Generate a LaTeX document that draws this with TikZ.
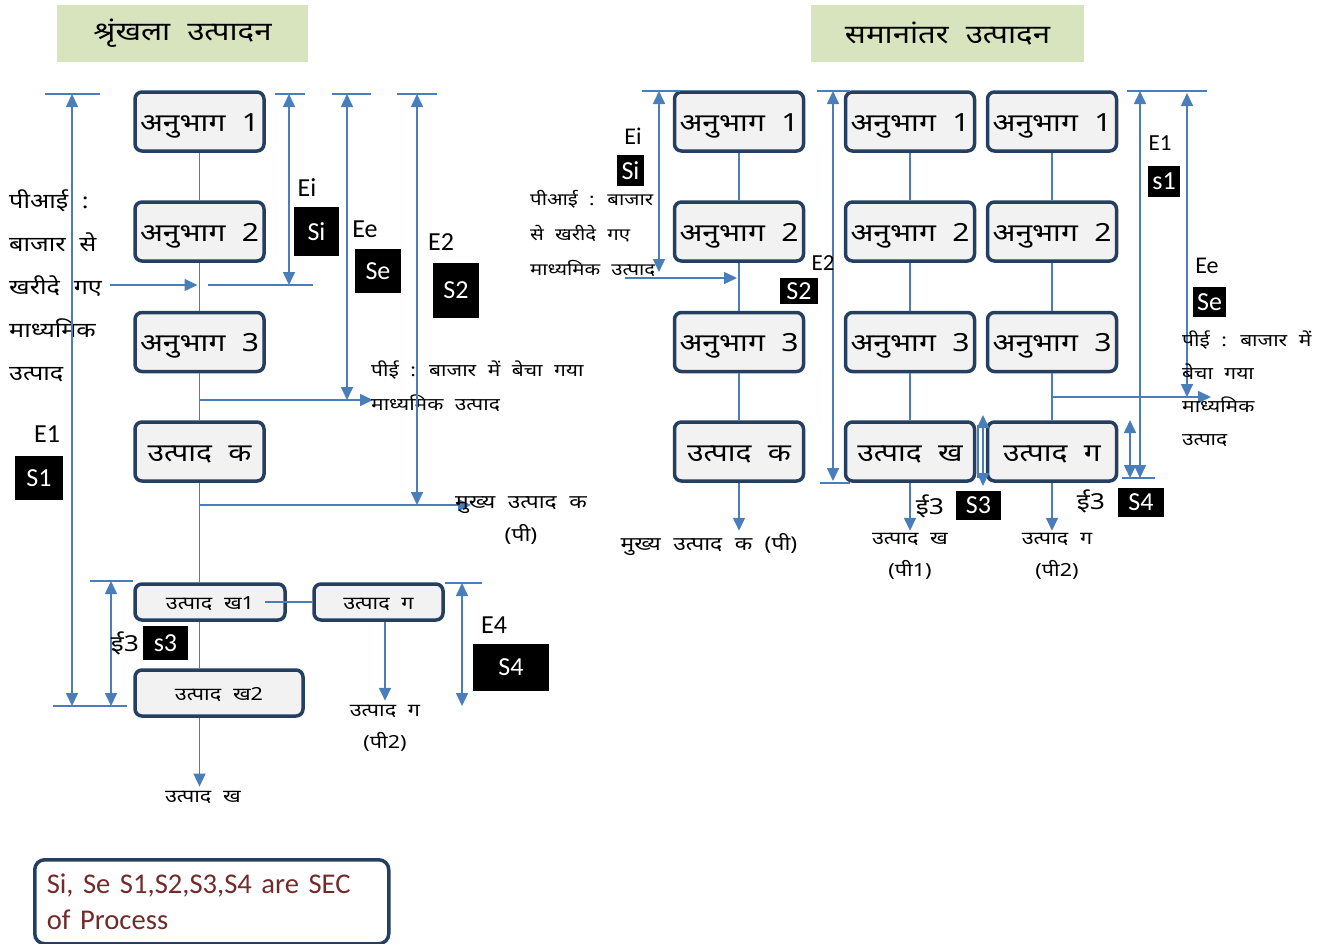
\documentclass[tikz,border=0pt]{standalone}
\usepackage{fontspec}
\setmainfont{Carlito}
\newfontfamily\hindi[Script=Devanagari, FakeStretch=1.2, WordSpace=2.1]{Noto Sans}
\usetikzlibrary{arrows.meta}
\definecolor{boxc}{HTML}{243F60}
\definecolor{boxf}{HTML}{F2F2F2}
\definecolor{linec}{HTML}{4A7EBB}
\definecolor{titlef}{HTML}{D7E4BD}
\definecolor{notec}{HTML}{722B2B}
\tikzset{
  sec/.style={draw=boxc, line width=3.5pt, rounded corners=7pt, fill=boxf,
    minimum width=129pt, minimum height=59pt, inner sep=0pt,
    text height=21pt, text depth=2pt,
    font=\hindi\fontsize{25}{27}\selectfont},
  secs/.style={sec, minimum height=36pt, text height=16pt, text depth=1pt,
    font=\hindi\fontsize{18}{20}\selectfont},
  title/.style={fill=titlef, minimum height=57pt, inner sep=0pt,
    font=\hindi\fontsize{26}{28}\selectfont},
  conn/.style={draw=linec, line width=1.6pt},
  arr/.style={conn, -{Triangle[length=13pt,width=12pt]}},
  dim/.style={conn, {Triangle[length=13pt,width=12pt]}-{Triangle[length=13pt,width=12pt]}},
  elab/.style={font=\fontsize{26}{28}\selectfont, inner sep=0pt},
  sbox/.style={fill=black, text=white, font=\fontsize{26}{28}\selectfont, inner sep=0pt},
  hlab/.style={font=\hindi\fontsize{18}{20}\selectfont, inner sep=0pt},
}
\begin{document}
\begin{tikzpicture}[x=1pt,y=-1pt]
  % rows and columns
  \def\ya{121.5}
  \def\yb{231.5}
  \def\yc{342}
  \def\yd{451.5}
  \def\xl{199.5}
  \def\xa{739}
  \def\xb{910}
  \def\xc{1052}

  \useasboundingbox (0,0) rectangle (1328,943);

  % titles
  \node[title, minimum width=251pt] (tser) at (182.5,33.5) {श्रृंखला उत्पादन};
  \node[title, minimum width=273pt] (tpar) at (947.5,33.5) {समानांतर उत्पादन};

  % ---------- chain production ----------
  \node[sec] (l1) at (\xl,\ya) {अनुभाग 1};
  \node[sec] (l2) at (\xl,\yb) {अनुभाग 2};
  \node[sec] (l3) at (\xl,\yc) {अनुभाग 3};
  \node[sec] (lk) at (\xl,\yd) {उत्पाद क};
  \node[secs, minimum width=150pt] (lkh1) at (210,602) {उत्पाद ख1};
  \node[secs, minimum width=129pt] (lg) at (378.5,602) {उत्पाद ग};
  \node[secs, minimum width=168pt, minimum height=46pt] (lkh2) at (219,693) {उत्पाद ख2};

  \draw[conn] (l1) -- (l2);
  \draw[conn] (l2) -- (l3);
  \draw[conn] (l3) -- (lk);
  \draw[conn] (lk.south) -- (lk.south |- lkh1.north);
  \draw[conn] (lk.south |- lkh1.south) -- (lk.south |- lkh2.north);
  \draw[conn] ([xshift=-22pt]lkh1.east) -- (lg.west);

  \node[hlab, align=center] (lgout) at (385,728) {उत्पाद ग\\[12pt](पी2)};
  \draw[arr] (lgout.north |- lg.south) -- ([yshift=4pt]lgout.north);
  \node[hlab] (lkhout) at (203,797) {उत्पाद ख};
  \draw[arr] (lk.south |- lkh2.south) -- ([yshift=4pt]lk.south |- lkhout.north);

  % bought input
  \node[anchor=north west, align=left, inner sep=0pt,
    font=\hindi\fontsize{21}{43}\selectfont] (pil) at (9,189)
    {पीआई :\\बाजार से\\खरीदे गए\\माध्यमिक\\उत्पाद};
  \coordinate (pin) at (110,285);
  \draw[arr] (pin) -- ([xshift=-2pt]pin -| l2.south);

  % sold output and main product
  \coordinate (peo) at (373,400);
  \draw[arr] (l3.south |- peo) -- (peo);
  \node[anchor=north west, align=left, inner sep=0pt,
    font=\hindi\fontsize{17.5}{34}\selectfont] (pel) at (371,361)
    {पीई : बाजार में बेचा गया\\माध्यमिक उत्पाद};
  \coordinate (mpo) at (471,505);
  \draw[arr] (lk.south |- mpo) -- (mpo);
  \node[anchor=north, align=center, inner sep=0pt,
    font=\hindi\fontsize{19}{33}\selectfont] (mpl) at (521,496)
    {मुख्य उत्पाद क\\(पी)};

  % E_i
  \coordinate (eiT) at (289,94);
  \coordinate (eiB) at (289,285);
  \draw[conn] (275,94) -- (305,94);
  \draw[conn] (208,285) -- (313,285);
  \draw[dim] (eiT) -- (eiB);
  \node[elab] (lei) at (307,188) {Ei};
  \node[sbox, minimum width=45pt, minimum height=49pt] (lsi) at (316.5,231.5) {Si};
  % E_e
  \coordinate (eeT) at (347,94);
  \draw[conn] (332,94) -- (371,94);
  \draw[dim] (eeT) -- (eeT |- peo);
  \node[elab] (lee) at (365,229) {Ee};
  \node[sbox, minimum width=46pt, minimum height=44pt] (lse) at (378,271) {Se};
  % E2
  \coordinate (e2T) at (417,94);
  \draw[conn] (397,94) -- (437,94);
  \draw[dim] (e2T) -- (e2T |- mpo);
  \node[elab] (le2) at (441,242) {E2};
  \node[sbox, minimum width=46pt, minimum height=55pt] (ls2) at (456,290.5) {S2};
  % E1
  \coordinate (e1T) at (72,94);
  \coordinate (e1B) at (72,706);
  \draw[conn] (45,94) -- (100,94);
  \draw[conn] (53,706) -- (127,706);
  \draw[dim] (e1T) -- (e1B);
  \node[elab] (le1) at (47,434) {E1};
  \node[sbox, minimum width=48pt, minimum height=44pt] (ls1) at (39,478) {S1};
  % E3
  \coordinate (e3T) at (111,581);
  \draw[conn] (90,581) -- (133,581);
  \draw[dim] (e3T) -- (e3T |- e1B);
  \node[hlab, font=\hindi\fontsize{22}{24}\selectfont] (le3) at (125,643) {ई3};
  \node[sbox, minimum width=45pt, minimum height=34pt] (ls3) at (165.5,643) {s3};
  % E4
  \coordinate (e4T) at (462,583);
  \draw[conn] (445,583) -- (482,583);
  \draw[dim] (e4T) -- (e4T |- e1B);
  \node[elab] (le4) at (494,625) {E4};
  \node[sbox, minimum width=76pt, minimum height=47pt] (ls4) at (511,667.5) {S4};

  % ---------- parallel production ----------
  \node[sec] (a1) at (\xa,\ya) {अनुभाग 1};
  \node[sec] (a2) at (\xa,\yb) {अनुभाग 2};
  \node[sec] (a3) at (\xa,\yc) {अनुभाग 3};
  \node[sec] (ak) at (\xa,\yd) {उत्पाद क};
  \node[sec] (b1) at (\xb,\ya) {अनुभाग 1};
  \node[sec] (b2) at (\xb,\yb) {अनुभाग 2};
  \node[sec] (b3) at (\xb,\yc) {अनुभाग 3};
  \node[sec] (bkh) at (\xb,\yd) {उत्पाद ख};
  \node[sec] (c1) at (\xc,\ya) {अनुभाग 1};
  \node[sec] (c2) at (\xc,\yb) {अनुभाग 2};
  \node[sec] (c3) at (\xc,\yc) {अनुभाग 3};
  \node[sec] (cg) at (\xc,\yd) {उत्पाद ग};

  \draw[conn] (a1) -- (a2);
  \draw[conn] (a2) -- (a3);
  \draw[conn] (a3) -- (ak);
  \draw[conn] (b1) -- (b2);
  \draw[conn] (b2) -- (b3);
  \draw[conn] (b3) -- (bkh);
  \draw[conn] (c1) -- (c2);
  \draw[conn] (c2) -- (c3);
  \draw[conn] (c3) -- (cg);

  \node[hlab, font=\hindi\fontsize{19}{20}\selectfont] (akout) at (709,545) {मुख्य उत्पाद क (पी)};
  \draw[arr] (ak) -- ([yshift=3pt]ak |- akout.north);
  \node[hlab, align=center] (bout) at (910,556) {उत्पाद ख\\[12pt](पी1)};
  \draw[arr] (bkh) -- ([yshift=2pt]bkh |- bout.north);
  \node[hlab, align=center] (cout) at (1057,556) {उत्पाद ग\\[12pt](पी2)};
  \draw[arr] (cg.south -| \xc,0) -- ([yshift=2pt]\xc,0 |- cout.north);

  % bought input
  \node[anchor=north west, align=left, inner sep=0pt,
    font=\hindi\fontsize{17}{35}\selectfont] (pir) at (530,190)
    {पीआई : बाजार\\से खरीदे गए\\माध्यमिक उत्पाद};
  \coordinate (pinr) at (625,278);
  \draw[arr] (pinr) -- ([xshift=-2pt]pinr -| a2.south);
  % E_i
  \coordinate (reiT) at (659,91);
  \draw[conn] (642,91) -- (680,91);
  \draw[dim] (reiT) -- (659,272);
  \node[elab, font=\fontsize{24}{26}\selectfont] (rei) at (633,136) {Ei};
  \node[sbox, minimum width=27pt, minimum height=31pt] (rsi) at (630.5,170.5) {Si};
  % E2
  \coordinate (re2T) at (833,91);
  \coordinate (re2B) at (833,481);
  \draw[conn] (817,91) -- (850,91);
  \draw[conn] (820,483) -- (850,483);
  \draw[dim] (re2T) -- (re2B);
  \node[elab, font=\fontsize{23}{25}\selectfont] (re2) at (823,263) {E2};
  \node[sbox, minimum width=38pt, minimum height=26pt] (rs2) at (799,291) {S2};
  % E3 between the two products
  \draw[conn] (978,425) -- (978,478);
  \draw[dim] (983,415) -- (983,486);
  \node[hlab, font=\hindi\fontsize{22}{24}\selectfont] (re3) at (930,506) {ई3};
  \node[sbox, minimum width=45pt, minimum height=29pt] (rs3) at (978.5,505.5) {S3};
  % E4, E1
  \coordinate (re1T) at (1140,91);
  \coordinate (re1B) at (1140,478);
  \draw[conn] (1127,91) -- (1207,91);
  \draw[conn] (1122,478) -- (1155,478);
  \draw[dim] (1130,420) -- (1130,478);
  \draw[dim] (re1T) -- (re1B);
  \node[hlab, font=\hindi\fontsize{22}{24}\selectfont] (re4) at (1091,501) {ई3};
  \node[sbox, minimum width=46pt, minimum height=29pt] (rs4) at (1141,502.5) {S4};
  \node[elab, font=\fontsize{23}{25}\selectfont] (re1) at (1160,143) {E1};
  \node[sbox, minimum width=32pt, minimum height=31pt] (rs1) at (1164,181.5) {s1};
  % E_e
  \coordinate (peor) at (1211,397);
  \draw[arr] (cg.north |- peor) -- (peor);
  \draw[dim] (1187,93) -- (1187,397);
  \node[elab, font=\fontsize{24}{26}\selectfont] (ree) at (1207,266) {Ee};
  \node[sbox, minimum width=33pt, minimum height=30pt] (rse) at (1209.5,302) {Se};
  \node[anchor=north west, align=left, inner sep=0pt,
    font=\hindi\fontsize{17.5}{33}\selectfont] (per) at (1182,331)
    {पीई : बाजार में\\बेचा गया\\माध्यमिक\\उत्पाद};

  % note
  \node[draw=boxc, line width=3.5pt, rounded corners=10pt, anchor=north west,
    minimum width=354pt, minimum height=84pt, text width=330pt, align=left,
    inner sep=0pt, text=notec, font=\fontsize{28.6}{36}\selectfont] (note) at (33,858)
    {Si, Se S1,S2,S3,S4 are SEC\\of Process};
\end{tikzpicture}
\end{document}
